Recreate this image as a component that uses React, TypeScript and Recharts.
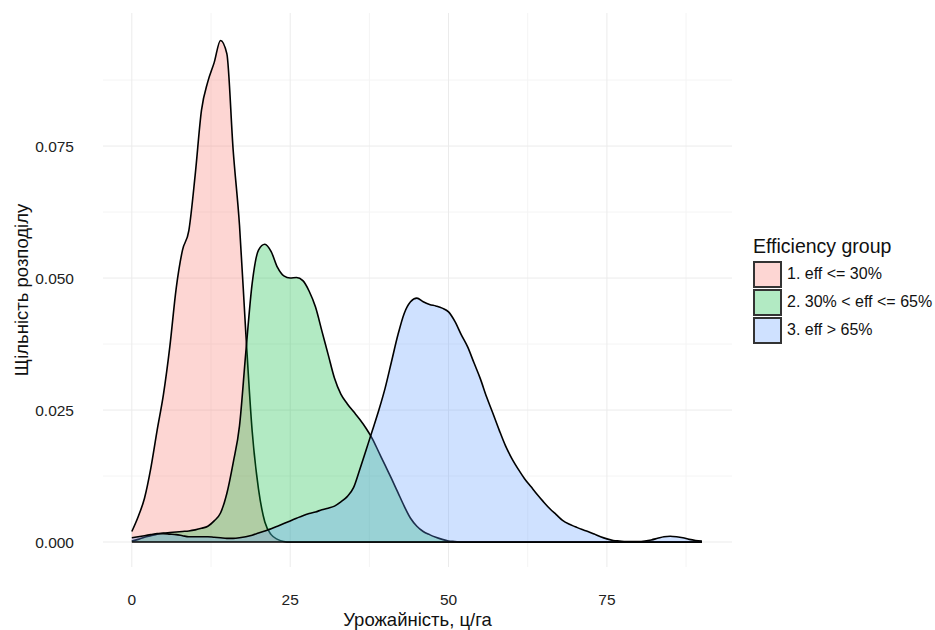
import {
  Area,
  AreaChart,
  CartesianGrid,
  Legend,
  ReferenceLine,
  XAxis,
  YAxis,
} from "recharts";

// урожайність, ц/га (спільна сітка для всіх трьох кривих)
const yieldX = [
  0, 1, 2, 3, 4, 5, 6, 7, 8, 9, 10, 11, 12, 13, 14, 15, 16, 17, 18, 19, 20,
  21, 22, 23, 24, 25, 26, 27, 28, 29, 30, 31, 32, 33, 34, 35, 36, 37, 38, 39,
  40, 41, 42, 43, 44, 45, 46, 47, 48, 49, 50, 51, 52, 53, 54, 55, 56, 57, 58,
  59, 60, 61, 62, 63, 64, 65, 66, 67, 68, 69, 70, 71, 72, 73, 74, 75, 76, 77,
  78, 79, 80, 81, 82, 83, 84, 85, 86, 87, 88, 89, 90,
];

const lowEff = [
  0.002, 0.0048, 0.0083, 0.014, 0.0212, 0.028, 0.037, 0.048, 0.0553, 0.059,
  0.0695, 0.0818, 0.0872, 0.0908, 0.095, 0.0925, 0.0742, 0.06, 0.0395, 0.021,
  0.01, 0.0038, 0.0014, 0.0005, 0.0001, 0, 0, 0, 0, 0, 0, 0, 0, 0, 0, 0, 0, 0,
  0, 0, 0, 0, 0, 0, 0, 0, 0, 0, 0, 0, 0, 0, 0, 0, 0, 0, 0, 0, 0, 0, 0, 0, 0,
  0, 0, 0, 0, 0, 0, 0, 0, 0, 0, 0, 0, 0, 0, 0, 0, 0, 0, 0, 0, 0, 0, 0, 0, 0,
  0, 0, 0,
];

const midEff = [
  0.0002, 0.0005, 0.0009, 0.0012, 0.0015, 0.0017, 0.0018, 0.0019, 0.002,
  0.0021, 0.0023, 0.0026, 0.003, 0.004, 0.0055, 0.0092, 0.015, 0.022, 0.036,
  0.049, 0.0553, 0.0564, 0.055, 0.052, 0.0504, 0.05, 0.0501, 0.0495, 0.0475,
  0.0445, 0.04, 0.0355, 0.031, 0.028, 0.0262, 0.0247, 0.0232, 0.0215, 0.0195,
  0.017, 0.0145, 0.012, 0.0094, 0.0068, 0.0045, 0.003, 0.002, 0.0014, 0.0009,
  0.0005, 0.0002, 0.0001, 0, 0, 0, 0, 0, 0, 0, 0, 0, 0, 0, 0, 0, 0, 0, 0, 0,
  0, 0, 0, 0, 0, 0, 0, 0, 0, 0, 0, 0, 0, 0, 0, 0, 0, 0, 0, 0, 0, 0,
];

const highEff = [
  0.0008, 0.001, 0.0012, 0.0014, 0.0016, 0.0016, 0.0015, 0.0014, 0.0012,
  0.001, 0.001, 0.001, 0.001, 0.0009, 0.0008, 0.0007, 0.0007, 0.0008, 0.001,
  0.0013, 0.0017, 0.0021, 0.0025, 0.003, 0.0035, 0.004, 0.0045, 0.005, 0.0054,
  0.0057, 0.0061, 0.0064, 0.0068, 0.0076, 0.0086, 0.0103, 0.0138, 0.0175,
  0.0212, 0.025, 0.0292, 0.0342, 0.0392, 0.0433, 0.0455, 0.0462, 0.0455,
  0.045, 0.0447, 0.0443, 0.0436, 0.0418, 0.0393, 0.037, 0.034, 0.031, 0.0275,
  0.0244, 0.0212, 0.0182, 0.0158, 0.0138, 0.012, 0.0105, 0.009, 0.0076,
  0.0063, 0.0052, 0.0041, 0.0034, 0.0029, 0.0024, 0.002, 0.0015, 0.001,
  0.0006, 0.0003, 0.0002, 0.0001, 0.0001, 0.0001, 0.0002, 0.0004, 0.0007,
  0.001, 0.0011, 0.001, 0.0008, 0.0005, 0.0003, 0.0002,
];

const groups = [
  { key: "low", label: "1. eff <= 30%", color: "#F8766D", values: lowEff },
  { key: "mid", label: "2. 30% < eff <= 65%", color: "#00BA38", values: midEff },
  { key: "high", label: "3. eff > 65%", color: "#619CFF", values: highEff },
];

const xTicks = [0, 25, 50, 75];
const xMinor = [12.5, 37.5, 62.5, 87.5];
const yTicks = [0, 0.025, 0.05, 0.075];
const yMinor = [0.0125, 0.0375, 0.0625, 0.0875];

const xDomain = [-4.55, 94.75];
const yDomain = [-0.00473, 0.1002];

const data = yieldX.map((x, i) => ({
  x,
  low: lowEff[i],
  mid: midEff[i],
  high: highEff[i],
}));

const font = "'Liberation Sans', Arial, sans-serif";

// grid positions in px, taken from the axis domains
const toPxX = (vals: number[]) => ({ offset }: any) =>
  vals.map(
    (v) => offset.left + ((v - xDomain[0]) / (xDomain[1] - xDomain[0])) * offset.width
  );
const toPxY = (vals: number[]) => ({ offset }: any) =>
  vals.map(
    (v) => offset.top + ((yDomain[1] - v) / (yDomain[1] - yDomain[0])) * offset.height
  );

function GroupLegend() {
  return (
    <div style={{ fontFamily: font, color: "#111" }}>
      <div style={{ fontSize: 19.5, lineHeight: "24px", marginBottom: 2 }}>
        Efficiency group
      </div>
      {groups.map((g) => (
        <div
          key={g.key}
          style={{ display: "flex", alignItems: "center", height: 28 }}
        >
          <div
            style={{
              width: 25,
              height: 23,
              border: "2px solid #333",
              background: g.color + "4D",
              marginRight: 5,
            }}
          />
          <span style={{ fontSize: 16 }}>{g.label}</span>
        </div>
      ))}
    </div>
  );
}

export default function App() {
  return (
    <div style={{ position: "absolute", left: 0, top: 0, width: 935, height: 630, background: "#fff" }}>
      <AreaChart
        width={935}
        height={630}
        data={data}
        margin={{ top: 13, right: 203, bottom: 0, left: 0 }}
      >
        <CartesianGrid
          stroke="#f4f4f4"
          strokeWidth={1}
          verticalCoordinatesGenerator={toPxX(xMinor)}
          horizontalCoordinatesGenerator={toPxY(yMinor)}
        />
        <CartesianGrid
          stroke="#ebebeb"
          strokeWidth={1}
          verticalCoordinatesGenerator={toPxX(xTicks)}
          horizontalCoordinatesGenerator={toPxY(yTicks)}
        />
        <XAxis
          dataKey="x"
          type="number"
          domain={xDomain}
          ticks={xTicks}
          interval={0}
          allowDataOverflow
          axisLine={false}
          tickLine={false}
          tickSize={0}
          tickMargin={27}
          height={63}
          tick={{ fill: "#222", fontSize: 15.5, fontFamily: font }}
          label={{
            value: "Урожайність, ц/га",
            position: "insideBottom",
            offset: 4,
            style: { fill: "#111", fontSize: 18.5, fontFamily: font },
          }}
        />
        <YAxis
          type="number"
          domain={yDomain}
          ticks={yTicks}
          interval={0}
          allowDataOverflow
          axisLine={false}
          tickLine={false}
          tickSize={0}
          tickMargin={29}
          width={103}
          tickFormatter={(v) => Number(v).toFixed(3)}
          tick={{ fill: "#222", fontSize: 15.5, fontFamily: font }}
          label={{
            value: "Щільність розподілу",
            angle: -90,
            position: "insideLeft",
            offset: 21,
            style: {
              fill: "#111",
              fontSize: 18.5,
              fontFamily: font,
              textAnchor: "middle",
            },
          }}
        />
        {groups.map((g) => (
          <Area
            key={g.key}
            type="monotone"
            dataKey={g.key}
            name={g.label}
            stroke="#000"
            strokeWidth={1.6}
            fill={g.color}
            fillOpacity={0.3}
            isAnimationActive={false}
            dot={false}
            activeDot={false}
          />
        ))}
        <ReferenceLine
          segment={[
            { x: yieldX[0], y: 0 },
            { x: yieldX[yieldX.length - 1], y: 0 },
          ]}
          stroke="#000"
          strokeWidth={1.6}
        />
        <Legend
          layout="vertical"
          align="center"
          verticalAlign="middle"
          content={() => <GroupLegend />}
          wrapperStyle={{ left: 753, top: 234, width: 182 }}
        />
      </AreaChart>
    </div>
  );
}
